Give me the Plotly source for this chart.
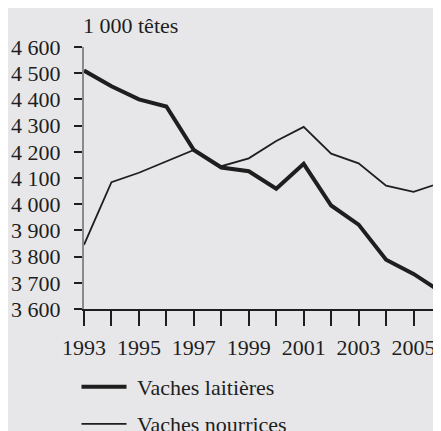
import plotly.graph_objects as go

years = list(range(1993, 2007))
laitieres = [4510, 4450, 4400, 4373, 4207, 4140, 4126, 4059, 4154, 3995, 3922, 3788, 3734, 3666]
nourrices = [3845, 4084, 4120, 4162, 4207, 4145, 4175, 4241, 4295, 4193, 4156, 4071, 4047, 4082]
y_ticks = [3600, 3700, 3800, 3900, 4000, 4100, 4200, 4300, 4400, 4500, 4600]
y_labels = ["3 600", "3 700", "3 800", "3 900", "4 000", "4 100", "4 200", "4 300", "4 400", "4 500", "4 600"]
x_labels = [str(y) if (y - 1993) % 2 == 0 and y <= 2005 else "" for y in years]
series_names = ["Vaches laitières", "Vaches nourrices"]

FONT = "Liberation Serif, Times New Roman, serif"
FS = 22
BG = "#e7e7e9"
INK = "#1e1e1e"

# page body has an 8px default margin: compensate in figure margins
OFF = 8
ML, MT, MR, MB = 84 - OFF, 47 - OFF, OFF, 431 - 309 + OFF
W, H = 441, 431
PH = H - MT - MB
PW = W - ML - MR

def py(screen_y):
    return (H - MB - (screen_y - OFF)) / PH

fig = go.Figure()
fig.add_trace(go.Scatter(x=years, y=laitieres, mode="lines", name="\u00a0" + series_names[0],
                         line=dict(color=INK, width=4), legend="legend"))
fig.add_trace(go.Scatter(x=years, y=nourrices, mode="lines", name="\u00a0" + series_names[1],
                         line=dict(color=INK, width=1.8), legend="legend2"))

leg_common = dict(orientation="v", xanchor="left", yanchor="middle",
                  bgcolor="rgba(0,0,0,0)", font=dict(size=FS, family=FONT, color=INK),
                  itemwidth=45)
LX = -7.5 / PW

fig.update_layout(
    width=W, height=H,
    paper_bgcolor=BG, plot_bgcolor=BG,
    margin=dict(l=ML, r=MR, t=MT, b=MB, autoexpand=False),
    font=dict(family=FONT, size=FS, color=INK),
    showlegend=True,
    legend=dict(x=LX, y=py(387), **leg_common),
    legend2=dict(x=LX, y=py(424), **leg_common),
    annotations=[dict(text="1 000 têtes", xref="paper", yref="paper", x=0, y=1,
                      xanchor="left", yanchor="bottom", yshift=7, xshift=-3, showarrow=False,
                      font=dict(size=FS, family=FONT, color=INK))],
)
fig.update_xaxes(range=[1993, 2006], tickvals=years, ticktext=x_labels, automargin=False,
                 showgrid=False, zeroline=False, showline=True, linecolor=INK, linewidth=1.5,
                 ticks="outside", ticklen=15, tickcolor=INK, tickwidth=1.5,
                 ticklabelstandoff=3)
fig.update_yaxes(range=[3600, 4600], tickvals=y_ticks, ticktext=y_labels, automargin=False,
                 showgrid=False, zeroline=False, showline=True, linecolor="#8a8a8a", linewidth=2,
                 ticks="outside", ticklen=8, tickcolor=INK, tickwidth=1.5,
                 ticklabelstandoff=9)

fig.write_html("out.html")
